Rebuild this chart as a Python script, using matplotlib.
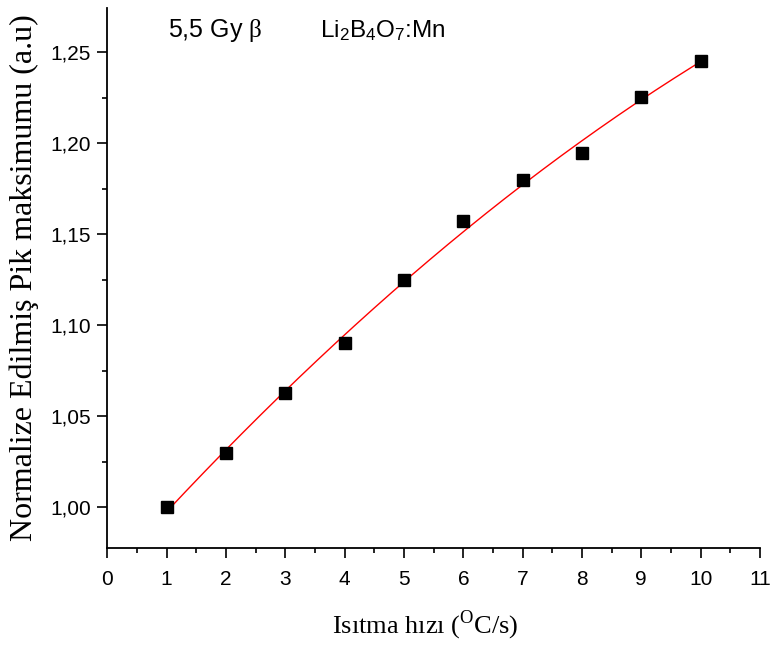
import numpy as np
import matplotlib.pyplot as plt
from matplotlib.ticker import MultipleLocator

plt.rcParams['mathtext.fontset'] = 'custom'
plt.rcParams['mathtext.rm'] = 'Liberation Serif'
plt.rcParams['mathtext.sf'] = 'Liberation Sans'

# Isıtma hızı (°C/s) ve normalize pik maksimumu
hiz = np.array([1, 2, 3, 4, 5, 6, 7, 8, 9, 10])
pik = np.array([1.000, 1.030, 1.063, 1.090, 1.125, 1.1575, 1.180, 1.1945, 1.2255, 1.245])

# ikinci dereceden fit
katsayi = np.polyfit(hiz, pik, 2)
xf = np.linspace(hiz.min(), hiz.max(), 200)
yf = np.polyval(katsayi, xf)

fig = plt.figure(figsize=(7.71, 6.46), dpi=100)
ax = fig.add_axes([0.1392, 0.1517, 0.8465, 0.8359])

ax.plot(xf, yf, color='red', lw=1.0, zorder=2)
ax.plot(hiz, pik, 's', color='black', ms=8, zorder=3)

ax.set_xlim(0, 11)
ax.set_ylim(0.9776, 1.2743)
ax.xaxis.set_major_locator(MultipleLocator(1))
ax.xaxis.set_minor_locator(MultipleLocator(0.5))
ax.yaxis.set_major_locator(MultipleLocator(0.05))
ax.yaxis.set_minor_locator(MultipleLocator(0.025))
ax.yaxis.set_major_formatter(lambda v, p: f'{v:.2f}'.replace('.', ','))

for s in ['top', 'right']:
    ax.spines[s].set_visible(False)
for s in ['left', 'bottom']:
    ax.spines[s].set_linewidth(1.3)

ax.tick_params(which='major', direction='out', length=7, width=1.2,
               labelsize=15)
ax.tick_params(axis='x', which='major', pad=9)
ax.tick_params(axis='y', which='major', pad=5)
ax.tick_params(which='minor', direction='out', length=3.5, width=1.2)
for lab in ax.get_xticklabels() + ax.get_yticklabels():
    lab.set_fontfamily('Liberation Sans')

ax.set_xlabel('Isıtma hızı ($^{\\mathrm{O}}$C/s)', fontfamily='Liberation Serif',
              fontsize=19)
ax.xaxis.set_label_coords(0.487, -0.113)
ax.set_ylabel('Normalize Edilmiş Pik maksimumu (a.u)', fontfamily='Liberation Serif',
              fontsize=23, labelpad=8)

ax.text(1.02, 1.2585, '5,5 Gy $\\mathrm{β}$', fontfamily='Liberation Sans',
        fontsize=18)
ax.text(3.59, 1.2585, '$\\mathsf{Li_2B_4O_7}$:Mn', fontfamily='Liberation Sans',
        fontsize=17.5)

plt.savefig('out.png', dpi=100)
